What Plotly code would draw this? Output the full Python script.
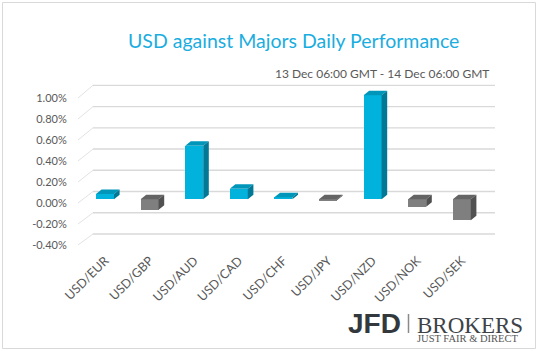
import plotly.graph_objects as go

# ---------------- data ----------------
categories = ["USD/EUR", "USD/GBP", "USD/AUD", "USD/CAD", "USD/CHF",
              "USD/JPY", "USD/NZD", "USD/NOK", "USD/SEK"]
values = [0.05, -0.10, 0.51, 0.10, 0.02, -0.01, 0.99, -0.07, -0.20]
y_ticks = [-0.4, -0.2, 0.0, 0.2, 0.4, 0.6, 0.8, 1.0]
y_tick_labels = [f"{v:.2f}%" for v in y_ticks]
title_text = "USD against Majors Daily Performance"
subtitle_text = "13 Dec 06:00 GMT - 14 Dec 06:00 GMT"

# ---------------- geometry (pixels) ----------------
W, H = 538, 351
L, R, T, B = 78, 495, 80, 250
X0, XSTEP = 105.0, 44.6          # category centre pixel / spacing
F0, FS = 203.0, 105.0            # front plane (labels): px of 0 and px per 1%
K0, KS = 191.5, 106.2            # back wall
R0, RS = 199.3, 105.0            # bar plane
BACK_X = 93.0
BAR_W = 18.0 / XSTEP
DX = 5.6 / XSTEP
DY = 4.5 / RS

CYAN = ["#00B2DC", "#0096BA", "#007896"]   # front, top, side
GREY = ["#7F7F7F", "#646464", "#515151"]


def xr(px):
    return (px - X0) / XSTEP


def back_in_front(v):
    px = K0 - KS * v
    return (F0 - px) / FS


def paper_x(px):
    return (px - L) / (R - L)


def paper_y(py):
    return (B - py) / (B - T)


fig = go.Figure()

# front faces of the bars
fig.add_trace(go.Bar(
    x=list(range(len(categories))), y=values, width=BAR_W,
    marker=dict(color=[CYAN[0] if v >= 0 else GREY[0] for v in values], line_width=0),
    yaxis="y3", showlegend=False, hoverinfo="x+y"))

# 3D top and side faces, derived from the values
for sign, pal in ((1, CYAN), (-1, GREY)):
    tx, ty, sx, sy = [], [], [], []
    for i, v in enumerate(values):
        if (v >= 0) != (sign > 0):
            continue
        hi, lo = max(v, 0.0), min(v, 0.0)
        a, b = i - BAR_W / 2, i + BAR_W / 2
        tx += [a, b, b + DX, a + DX, a, None]
        ty += [hi, hi, hi + DY, hi + DY, hi, None]
        sx += [b, b, b + DX, b + DX, b, None]
        sy += [lo, hi, hi + DY, lo + DY, lo, None]
    fig.add_trace(go.Scatter(x=tx, y=ty, yaxis="y3", mode="lines", fill="toself",
                             fillcolor=pal[1], line=dict(width=0, color=pal[1]),
                             hoverinfo="skip", showlegend=False))
    fig.add_trace(go.Scatter(x=sx, y=sy, yaxis="y3", mode="lines", fill="toself",
                             fillcolor=pal[2], line=dict(width=0, color=pal[2]),
                             hoverinfo="skip", showlegend=False))

shapes = []
for v in y_ticks:
    yb = back_in_front(v)
    shapes.append(dict(type="line", xref="x", yref="y", layer="below",
                       x0=xr(L), y0=v, x1=xr(BACK_X), y1=yb,
                       line=dict(color="#E2E2E2", width=1)))
    shapes.append(dict(type="line", xref="x", yref="y", layer="below",
                       x0=xr(BACK_X), y0=yb, x1=xr(R), y1=yb,
                       line=dict(color="#D9D9D9", width=1.3)))

# outer frame
shapes.append(dict(type="rect", xref="paper", yref="paper",
                   x0=paper_x(2.5), x1=paper_x(535.5), y0=paper_y(348.5), y1=paper_y(2.5),
                   line=dict(color="#D9D9D9", width=1)))
# logo separator
shapes.append(dict(type="line", xref="paper", yref="paper",
                   x0=paper_x(408.5), x1=paper_x(408.5), y0=paper_y(333), y1=paper_y(314),
                   line=dict(color="#8A8A8A", width=1.5)))

logo_words = ("BROKERS", "JUST FAIR &amp; DIRECT")

annotations = [
    dict(text=title_text, xref="paper", yref="paper", x=paper_x(293), y=paper_y(41),
         xanchor="center", yanchor="middle", showarrow=False,
         font=dict(family="Lato", size=19.5, color="#1AADE0")),
    dict(text=subtitle_text, xref="paper", yref="paper", x=paper_x(491), y=paper_y(74),
         xanchor="right", yanchor="middle", showarrow=False,
         font=dict(family="Lato", size=12, color="#595959")),
    dict(text="<b>JFD</b>", xref="paper", yref="paper", x=paper_x(346), y=paper_y(323.5),
         xanchor="left", yanchor="middle", showarrow=False,
         font=dict(family="Liberation Sans", size=28, color="#33383C")),
    dict(text=(f"<span style='font-size:23px;color:#3E4347'>{logo_words[0]}</span><br>"
               f"<span style='font-size:10.5px;color:#555555'>{logo_words[1]}</span>"),
         xref="paper", yref="paper", x=paper_x(415), y=paper_y(328),
         xanchor="left", yanchor="middle", showarrow=False, align="left",
         font=dict(family="Liberation Serif", size=6.8, color="#555555")),
]

fig.update_layout(
    width=W, height=H,
    margin=dict(l=L, r=W - R, t=T, b=H - B, pad=0),
    paper_bgcolor="white", plot_bgcolor="white",
    font=dict(family="Lato", size=11, color="#595959"),
    bargap=0,
    xaxis=dict(range=[xr(L), xr(R)], tickvals=list(range(len(categories))),
               ticktext=categories, tickangle=-45, showgrid=False, zeroline=False,
               showline=False, ticks="", fixedrange=True,
               tickfont=dict(family="Lato", size=12.5, color="#595959")),
    yaxis=dict(range=[(F0 - B) / FS, (F0 - T) / FS], tickvals=y_ticks,
               ticktext=y_tick_labels, showgrid=False, zeroline=False, showline=False,
               ticks="outside", ticklen=8, tickcolor="rgba(0,0,0,0)", fixedrange=True),
    yaxis3=dict(range=[(R0 - B) / RS, (R0 - T) / RS], overlaying="y", visible=False,
                fixedrange=True),
    shapes=shapes, annotations=annotations, showlegend=False,
)

fig.write_html("out.html")
